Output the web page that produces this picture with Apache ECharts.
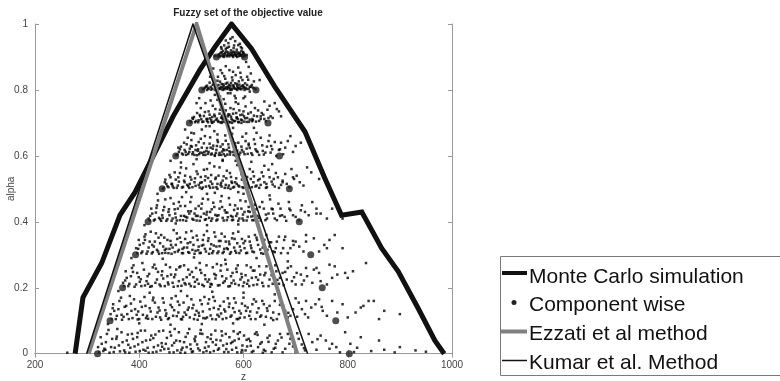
<!DOCTYPE html>
<html>
<head>
<meta charset="utf-8">
<script src="https://cdn.jsdelivr.net/npm/echarts@6/dist/echarts.min.js"></script>
<style>
html,body{margin:0;padding:0;background:#fff;}
#chart{width:780px;height:381px;}
</style>
</head>
<body>
<div id="chart"></div>
<script>
// ---------------- data ----------------
var xTicks = [200, 400, 600, 800, 1000];
var yTicks = [0, 0.2, 0.4, 0.6, 0.8, 1];

var legendNames = ['Monte Carlo simulation', 'Component wise', 'Ezzati et al method', 'Kumar et al. Method'];

// Monte Carlo simulation envelope [z, alpha]
var monteCarlo = [[277,0],[292,0.17],[328,0.275],[363,0.42],[392,0.49],[465,0.72],[516,0.86],[545,0.93],[577,1],
  [615,0.926],[660,0.81],[718,0.673],[756,0.532],[788,0.42],[827,0.43],[865,0.32],[897,0.249],[935,0.138],[967,0.04],[985,0]];

// Component wise alpha-cuts [z, alpha]
var componentWise = [[320,0],[344,0.1],[368,0.2],[393,0.3],[417,0.4],[444,0.5],[470,0.6],[496,0.7],[520,0.8],[548,0.9],
  [803,0],[777,0.1],[751,0.2],[729,0.3],[707,0.4],[688,0.5],[669,0.6],[647,0.7],[624,0.8],[602,0.9]];

// Ezzati et al method (triangular)
var ezzati = [[303,0],[510,1],[703,0]];
// Kumar et al. Method (triangular)
var kumar = [[299,0],[503,1],[723,0]];

// Monte Carlo samples read per alpha level [z, alpha]
var samples09 = [[552,.905],[556,.912],[559,.903],[561,.918],[564,.908],[566,.925],[568,.902],[570,.914],[572,.931],[574,.906],[576,.92],[578,.911],[579,.904],[581,.927],[583,.915],[585,.903],[587,.922],[589,.909],[590,.936],[592,.913],[594,.904],[596,.918],[598,.907],[600,.912],[602,.903],[557,.93],[571,.942],[584,.948],[593,.94],[605,.885],[610,.87],[575,.955],[563,.935],[588,.9],[597,.926],[554,.9],[562,.9],[580,.9],[599,.9],
 [550,.902],[553,.908],[555,.904],[558,.915],[560,.909],[563,.903],[565,.912],[567,.917],[569,.905],[571,.909],[573,.902],[575,.913],[577,.906],[580,.916],[582,.907],[584,.91],[586,.905],[588,.914],[591,.903],[593,.91],[595,.906],[597,.903],[599,.915],[601,.908],[603,.904],[558,.925],[569,.928],[582,.935],[595,.93],[566,.95],[579,.96],[545,.903],[606,.906]];
var samples08 = [[524,.803],[528,.81],[532,.806],[535,.822],[538,.801],[541,.815],[544,.83],[546,.805],[548,.812],[551,.84],[553,.803],[555,.825],[557,.809],[559,.851],[561,.817],[563,.802],[565,.834],[567,.808],[569,.822],[571,.805],[573,.86],[575,.813],[577,.8],[579,.829],[581,.811],[583,.804],[585,.845],[587,.818],[589,.807],[591,.826],[593,.803],[595,.838],[597,.812],[600,.806],[603,.82],[606,.803],[609,.831],[612,.809],[616,.815],[620,.805],[542,.865],[566,.872],[590,.868],[614,.85],[631,.83],[603,.78],[585,.775],[530,.8],[545,.8],[560,.8],[574,.8],[588,.8],[602,.8],
 [522,.802],[526,.807],[530,.813],[533,.803],[537,.809],[540,.804],[543,.817],[547,.802],[549,.809],[552,.815],[554,.806],[556,.803],[558,.818],[560,.807],[562,.812],[564,.805],[566,.819],[568,.803],[570,.81],[572,.815],[574,.806],[576,.821],[578,.804],[580,.814],[582,.807],[584,.82],[586,.803],[588,.812],[590,.805],[592,.816],[594,.808],[596,.802],[599,.814],[601,.809],[604,.806],[607,.815],[610,.803],[614,.81],[618,.807],[623,.802],[550,.828],[563,.842],[578,.838],[594,.852],[607,.84],[536,.84],[580,.855],[556,.86],[598,.83],[620,.826],[612,.795],[570,.79]];
var samples07 = [[498,.705],[503,.712],[507,.702],[511,.73],[514,.708],[518,.745],[521,.703],[524,.721],[527,.76],[530,.706],[533,.735],[536,.714],[539,.702],[541,.752],[544,.725],[547,.709],[550,.77],[552,.703],[555,.74],[557,.716],[560,.704],[562,.732],[565,.758],[567,.708],[570,.72],[572,.703],[575,.745],[577,.712],[580,.728],[582,.705],[585,.763],[587,.717],[590,.703],[592,.738],[595,.71],[598,.725],[601,.704],[604,.75],[607,.715],[610,.703],[614,.732],[618,.708],[622,.745],[626,.72],[630,.706],[635,.73],[640,.712],[646,.74],[652,.72],[660,.76],[668,.735],[515,.775],[545,.785],[575,.79],[600,.775],[528,.69],[620,.685],[540,.7],[558,.7],[578,.7],[596,.7],
 [500,.702],[505,.718],[509,.706],[513,.702],[516,.724],[519,.711],[523,.704],[526,.733],[529,.712],[532,.702],[535,.725],[538,.708],[540,.718],[543,.704],[546,.742],[549,.713],[551,.706],[554,.728],[556,.702],[559,.722],[561,.712],[564,.703],[566,.738],[569,.707],[571,.726],[574,.702],[576,.719],[579,.708],[581,.742],[584,.706],[586,.73],[589,.712],[591,.702],[594,.724],[597,.708],[600,.735],[603,.714],[606,.703],[609,.728],[612,.71],[616,.705],[620,.722],[624,.704],[628,.738],[633,.712],[638,.725],[643,.705],[650,.752],[656,.715],[664,.742],[672,.72],[510,.76],[537,.768],[562,.772],[590,.758],[615,.762],[640,.765],[555,.78],[583,.782],
 [502,.715],[517,.72],[531,.712],[545,.72],[559,.714],[573,.725],[587,.715],[601,.72],[617,.712],[633,.72],[648,.715]];
var samples06 = [[473,.604],[478,.62],[482,.607],[486,.64],[490,.603],[493,.655],[496,.612],[499,.63],[502,.605],[505,.668],[508,.618],[511,.602],[514,.642],[517,.61],[520,.625],[523,.603],[526,.66],[529,.615],[532,.606],[535,.637],[538,.604],[541,.622],[544,.675],[547,.609],[550,.648],[553,.603],[556,.628],[559,.613],[562,.605],[565,.662],[568,.618],[571,.635],[574,.604],[577,.652],[580,.612],[583,.626],[586,.603],[590,.64],[594,.61],[598,.658],[602,.605],[606,.622],[610,.637],[615,.608],[620,.65],[625,.615],[630,.603],[636,.632],[642,.61],[648,.645],[655,.62],[663,.6],[672,.64],[680,.625],[690,.66],[700,.63],[488,.68],[535,.69],[580,.685],[625,.67],[560,.585],[545,.6],[565,.6],[585,.6],
 [471,.602],[476,.612],[480,.628],[484,.604],[487,.618],[491,.635],[494,.606],[497,.622],[500,.648],[503,.611],[506,.603],[509,.632],[512,.615],[515,.605],[518,.652],[521,.609],[524,.638],[527,.603],[530,.624],[533,.612],[536,.656],[539,.607],[542,.631],[545,.603],[548,.618],[551,.642],[554,.609],[557,.603],[560,.635],[563,.617],[566,.646],[569,.604],[572,.625],[575,.611],[578,.667],[581,.603],[584,.638],[588,.616],[592,.604],[596,.628],[600,.612],[604,.645],[608,.606],[612,.624],[617,.603],[622,.636],[627,.612],[633,.655],[639,.604],[645,.628],[652,.61],[660,.642],[668,.618],[676,.605],[685,.645],[695,.612],[710,.64],[500,.67],[550,.665],[605,.668],[650,.662],[520,.68],
 [475,.625],[489,.612],[501,.628],[513,.62],[525,.612],[537,.625],[549,.63],[561,.62],[573,.614],[585,.628],[597,.618],[610,.632],[623,.62],[637,.615],[653,.63],[670,.62]];
var samples05 = [[447,.503],[452,.515],[456,.505],[460,.535],[464,.508],[468,.55],[472,.503],[476,.522],[480,.565],[484,.506],[488,.54],[492,.512],[496,.503],[500,.528],[504,.575],[508,.509],[512,.545],[516,.504],[520,.52],[524,.558],[528,.507],[532,.533],[536,.503],[540,.515],[544,.568],[548,.505],[552,.54],[556,.512],[560,.525],[564,.503],[568,.555],[572,.51],[576,.536],[580,.504],[584,.52],[588,.572],[592,.507],[596,.545],[600,.503],[604,.528],[608,.512],[612,.56],[616,.505],[620,.538],[625,.51],[630,.503],[635,.55],[640,.52],[645,.505],[650,.535],[656,.513],[662,.548],[668,.503],[675,.525],[683,.515],[692,.56],[702,.54],[715,.51],[730,.55],[460,.585],[510,.59],[560,.588],[615,.582],[655,.575],[590,.49],[530,.485],[520,.5],[550,.5],[575,.5],
 [445,.5],[449,.52],[454,.508],[458,.542],[462,.515],[466,.503],[470,.528],[474,.51],[478,.548],[482,.504],[486,.525],[490,.562],[494,.508],[498,.536],[502,.505],[506,.52],[510,.553],[514,.512],[518,.536],[522,.504],[526,.526],[530,.56],[534,.509],[538,.542],[542,.504],[546,.53],[550,.515],[554,.565],[558,.507],[562,.538],[566,.512],[570,.503],[574,.548],[578,.518],[582,.506],[586,.532],[590,.51],[594,.562],[598,.505],[602,.54],[606,.517],[610,.504],[614,.53],[618,.552],[623,.507],[628,.526],[633,.512],[638,.538],[643,.503],[648,.558],[654,.522],[660,.507],[666,.535],[672,.512],[680,.545],[688,.505],[697,.53],[708,.52],[722,.565],[745,.53],[480,.58],[535,.578],[585,.585],[640,.57],
 [450,.528],[463,.515],[475,.535],[487,.52],[497,.515],[507,.532],[517,.518],[527,.538],[537,.522],[547,.534],[557,.518],[567,.532],[577,.522],[587,.515],[597,.528],[607,.536],[619,.52],[631,.53],[644,.515],[658,.53],[675,.52],[695,.535]];
var samples04 = [[420,.404],[425,.425],[430,.407],[434,.45],[438,.412],[442,.403],[446,.435],[450,.468],[454,.408],[458,.42],[462,.403],[466,.455],[470,.413],[474,.44],[478,.405],[482,.475],[486,.418],[490,.403],[494,.432],[498,.46],[502,.409],[506,.425],[510,.404],[514,.448],[518,.415],[522,.47],[526,.406],[530,.43],[534,.412],[538,.403],[542,.458],[546,.421],[550,.407],[554,.44],[558,.478],[562,.404],[566,.428],[570,.414],[574,.452],[578,.405],[582,.436],[586,.418],[590,.403],[594,.465],[598,.41],[602,.43],[606,.404],[610,.445],[615,.416],[620,.405],[625,.438],[630,.412],[636,.46],[642,.405],[648,.425],[654,.44],[660,.41],[667,.455],[674,.42],[682,.403],[690,.435],[700,.415],[712,.45],[725,.42],[740,.44],[760,.41],[435,.485],[490,.49],[545,.488],[600,.485],[650,.48],
 [418,.41],[423,.44],[428,.404],[432,.428],[436,.465],[440,.408],[444,.42],[448,.445],[452,.403],[456,.43],[460,.472],[464,.41],[468,.438],[472,.404],[476,.46],[480,.418],[484,.405],[488,.448],[492,.413],[496,.425],[500,.475],[504,.406],[508,.44],[512,.418],[516,.403],[520,.455],[524,.425],[528,.408],[532,.468],[536,.43],[540,.41],[544,.445],[548,.404],[552,.42],[556,.462],[560,.412],[564,.435],[568,.405],[572,.472],[576,.418],[580,.406],[584,.45],[588,.425],[592,.41],[596,.44],[600,.404],[604,.462],[608,.415],[612,.43],[617,.405],[622,.452],[627,.418],[633,.404],[639,.44],[645,.41],[651,.468],[657,.425],[664,.405],[671,.44],[679,.415],[687,.46],[695,.42],[706,.405],[718,.43],[732,.46],[748,.425],[770,.44],[790,.41],
 [421,.418],[433,.442],[445,.412],[457,.438],[469,.425],[479,.448],[489,.415],[499,.432],[509,.418],[519,.44],[529,.422],[539,.438],[549,.418],[559,.445],[569,.428],[579,.415],[589,.44],[599,.422],[609,.432],[619,.418],[631,.445],[643,.422],[656,.438],[670,.418],[688,.44],[710,.435],[740,.425]];
var samples03 = [[396,.305],[401,.33],[406,.31],[410,.355],[414,.303],[418,.322],[422,.37],[426,.308],[430,.34],[434,.315],[438,.303],[442,.36],[446,.325],[450,.306],[454,.345],[458,.318],[462,.303],[466,.375],[470,.33],[474,.31],[478,.352],[482,.305],[486,.322],[490,.368],[494,.308],[498,.338],[502,.315],[506,.303],[510,.358],[514,.325],[518,.306],[522,.345],[526,.318],[530,.372],[534,.303],[538,.332],[542,.311],[546,.355],[550,.305],[554,.326],[558,.364],[562,.309],[566,.34],[570,.317],[574,.303],[578,.35],[582,.322],[586,.306],[590,.37],[595,.313],[600,.335],[605,.305],[610,.355],[615,.32],[620,.308],[626,.345],[632,.316],[638,.303],[644,.36],[650,.325],[657,.31],[664,.34],[672,.305],[680,.355],[690,.32],[700,.34],[715,.31],[735,.35],[755,.33],[775,.36],[410,.39],[470,.395],[530,.39],[590,.392],
 [394,.32],[399,.345],[404,.305],[408,.335],[412,.362],[416,.31],[420,.34],[424,.304],[428,.325],[432,.365],[436,.31],[440,.335],[444,.305],[448,.352],[452,.318],[456,.305],[460,.342],[464,.322],[468,.308],[472,.365],[476,.315],[480,.338],[484,.305],[488,.348],[492,.322],[496,.306],[500,.372],[504,.33],[508,.312],[512,.345],[516,.305],[520,.328],[524,.36],[528,.31],[532,.342],[536,.318],[540,.305],[544,.368],[548,.325],[552,.31],[556,.342],[560,.305],[564,.355],[568,.32],[572,.34],[576,.308],[580,.365],[584,.312],[588,.335],[592,.305],[597,.348],[602,.32],[607,.306],[612,.34],[617,.31],[622,.36],[628,.33],[634,.305],[640,.345],[646,.315],[653,.338],[660,.308],[668,.355],[676,.32],[685,.305],[695,.342],[707,.325],[720,.36],[745,.31],[765,.345],[790,.32],
 [398,.318],[411,.345],[425,.33],[437,.352],[449,.315],[461,.33],[473,.348],[483,.318],[493,.335],[503,.352],[513,.314],[523,.33],[533,.35],[543,.328],[553,.342],[563,.318],[573,.332],[583,.348],[593,.325],[603,.342],[614,.328],[625,.352],[637,.322],[649,.338],[662,.32],[678,.345],[696,.33],[720,.34],[760,.32]];
var samples02 = [[371,.205],[376,.23],[381,.212],[386,.26],[391,.203],[396,.245],[401,.218],[406,.275],[411,.207],[416,.235],[421,.203],[426,.262],[431,.215],[436,.248],[441,.205],[446,.228],[451,.27],[456,.21],[461,.24],[466,.203],[471,.255],[476,.22],[481,.206],[486,.268],[491,.232],[496,.212],[501,.248],[506,.203],[511,.225],[516,.275],[521,.209],[526,.238],[531,.218],[536,.203],[541,.262],[546,.228],[551,.207],[556,.252],[561,.215],[566,.272],[571,.204],[576,.235],[581,.222],[586,.258],[591,.208],[596,.242],[601,.216],[606,.268],[611,.205],[616,.23],[621,.252],[626,.21],[632,.24],[638,.205],[644,.265],[650,.225],[656,.212],[663,.25],[670,.23],[677,.208],[685,.26],[693,.22],[702,.245],[712,.21],[722,.235],[735,.255],[748,.22],[765,.27],[780,.24],[800,.23],[385,.29],[445,.288],[505,.292],[565,.285],[625,.29],[685,.28],
 [369,.215],[374,.25],[379,.205],[384,.235],[389,.268],[394,.21],[399,.232],[404,.205],[409,.255],[414,.22],[419,.242],[424,.205],[429,.27],[434,.225],[439,.21],[444,.25],[449,.205],[454,.235],[459,.262],[464,.215],[469,.24],[474,.205],[479,.265],[484,.225],[489,.21],[494,.255],[499,.205],[504,.232],[509,.26],[514,.212],[519,.245],[524,.205],[529,.268],[534,.225],[539,.21],[544,.242],[549,.272],[554,.208],[559,.235],[564,.22],[569,.255],[574,.205],[579,.245],[584,.212],[589,.268],[594,.225],[599,.205],[604,.238],[609,.222],[614,.262],[619,.208],[624,.232],[630,.265],[636,.215],[642,.245],[648,.205],[654,.238],[661,.268],[668,.212],[675,.245],[683,.225],[691,.265],[700,.21],[710,.24],[720,.26],[732,.215],[745,.245],[760,.21],[775,.265],[795,.245],[835,.275],
 [373,.222],[388,.248],[403,.226],[417,.212],[432,.258],[443,.238],[455,.216],[467,.232],[477,.262],[487,.214],[497,.24],[507,.218],[517,.254],[527,.226],[537,.212],[547,.238],[557,.268],[567,.228],[577,.214],[587,.248],[597,.232],[607,.212],[618,.252],[628,.224],[640,.238],[652,.258],[665,.224],[680,.248],[697,.232],[716,.222],[740,.26],[770,.23],[810,.25]];
var samples01 = [[347,.105],[352,.13],[357,.115],[362,.16],[367,.103],[372,.142],[377,.12],[382,.175],[387,.108],[392,.135],[397,.104],[402,.158],[407,.118],[412,.145],[417,.106],[422,.128],[427,.17],[432,.112],[437,.14],[442,.103],[447,.155],[452,.122],[457,.108],[462,.168],[467,.132],[472,.114],[477,.148],[482,.104],[487,.125],[492,.175],[497,.11],[502,.138],[507,.118],[512,.103],[517,.162],[522,.128],[527,.107],[532,.152],[537,.116],[542,.172],[547,.104],[552,.135],[557,.122],[562,.158],[567,.108],[572,.142],[577,.116],[582,.168],[587,.105],[592,.13],[597,.152],[602,.11],[608,.14],[614,.105],[620,.165],[626,.125],[632,.112],[639,.15],[646,.13],[653,.108],[660,.16],[668,.12],[676,.145],[685,.11],[695,.135],[706,.155],[718,.12],[730,.14],[745,.165],[760,.115],[790,.15],[815,.125],[840,.16],[850,.16],[870,.13],[360,.19],[420,.185],[480,.19],[540,.188],[600,.185],[660,.18],
 [345,.12],[350,.15],[355,.105],[360,.135],[365,.17],[370,.112],[375,.145],[380,.105],[385,.13],[390,.165],[395,.118],[400,.105],[405,.142],[410,.172],[415,.115],[420,.138],[425,.105],[430,.155],[435,.125],[440,.11],[445,.168],[450,.132],[455,.105],[460,.148],[465,.115],[470,.175],[475,.125],[480,.105],[485,.155],[490,.118],[495,.14],[500,.165],[505,.105],[510,.13],[515,.115],[520,.15],[525,.172],[530,.11],[535,.135],[540,.105],[545,.16],[550,.118],[555,.145],[560,.105],[565,.128],[570,.168],[575,.112],[580,.138],[585,.155],[590,.105],[595,.122],[600,.17],[605,.13],[611,.115],[617,.15],[623,.105],[629,.138],[636,.16],[643,.112],[650,.145],[657,.125],[664,.105],[672,.158],[680,.13],[690,.115],[700,.168],[712,.135],[724,.11],[738,.15],[752,.13],[770,.16],[800,.11],[825,.14],[860,.105],[900,.12],
 [349,.138],[366,.118],[384,.152],[398,.128],[413,.108],[426,.162],[439,.131],[451,.115],[463,.141],[474,.158],[484,.112],[493,.133],[504,.148],[514,.124],[523,.108],[534,.165],[543,.139],[553,.113],[563,.134],[573,.152],[583,.126],[593,.109],[603,.145],[613,.128],[624,.158],[634,.116],[645,.138],[657,.102],[670,.148],[686,.124],[703,.112],[720,.16],[750,.142],[780,.125],[830,.145]];
var samples00 = [[262,.003],[323,.005],[328,.03],[333,.015],[338,.06],[343,.003],[348,.045],[353,.018],[358,.075],[363,.007],[368,.035],[373,.004],[378,.058],[383,.018],[388,.045],[393,.006],[398,.028],[403,.07],[408,.012],[413,.04],[418,.003],[423,.055],[428,.02],[433,.006],[438,.068],[443,.032],[448,.014],[453,.048],[458,.004],[463,.025],[468,.075],[473,.01],[478,.038],[483,.018],[488,.003],[493,.062],[498,.028],[503,.007],[508,.052],[513,.016],[518,.072],[523,.004],[528,.035],[533,.022],[538,.058],[543,.008],[548,.042],[553,.016],[558,.068],[563,.005],[568,.03],[573,.05],[578,.012],[583,.04],[588,.004],[593,.065],[598,.025],[604,.01],[610,.045],[616,.005],[622,.06],[628,.02],[635,.035],[642,.008],[650,.055],[658,.015],[666,.04],[675,.004],[685,.06],[695,.022],[706,.045],[718,.01],[732,.035],[748,.055],[765,.015],[785,.004],[805,.03],[825,.05],[845,.008],[890,.004],[930,.01],[340,.09],[400,.092],[460,.088],[520,.09],[580,.092],[640,.088],
 [321,.02],[326,.05],[331,.008],[336,.035],[341,.072],[346,.02],[351,.005],[356,.045],[361,.025],[366,.065],[371,.01],[376,.04],[381,.003],[386,.06],[391,.022],[396,.05],[401,.008],[406,.035],[411,.07],[416,.018],[421,.042],[426,.004],[431,.058],[436,.025],[441,.01],[446,.07],[451,.03],[456,.015],[461,.055],[466,.004],[471,.04],[476,.065],[481,.012],[486,.035],[491,.02],[496,.075],[501,.005],[506,.045],[511,.028],[516,.01],[521,.06],[526,.018],[531,.05],[536,.004],[541,.035],[546,.07],[551,.012],[556,.04],[561,.025],[566,.06],[571,.005],[576,.032],[581,.068],[586,.018],[591,.045],[596,.004],[601,.055],[607,.022],[613,.038],[619,.008],[625,.065],[632,.03],[639,.012],[646,.048],[654,.004],[662,.03],[670,.06],[680,.015],[690,.045],[700,.005],[712,.028],[725,.06],[740,.012],[758,.04],[778,.02],[795,.065],[812,.005],[860,.04],[900,.02],[950,.006],
 [335,.012],[357,.052],[379,.027],[397,.063],[412,.009],[427,.047],[444,.021],[459,.066],[467,.033],[479,.003],[489,.051],[499,.014],[507,.038],[517,.061],[529,.008],[537,.045],[547,.027],[559,.055],[567,.014],[579,.036],[589,.06],[597,.011],[606,.042],[614,.024],[627,.057],[637,.003],[648,.036],[661,.018],[673,.049],[688,.03],[703,.062],[716,.017],[742,.044],[770,.03],[818,.018],[870,.012]];

var samples = [].concat(samples00, samples01, samples02, samples03, samples04, samples05, samples06, samples07, samples08, samples09);

// ---------------- chart ----------------
var chart = echarts.init(document.getElementById('chart'), null, {renderer: 'canvas'});
var FONT = 'Liberation Sans, Helvetica, Arial, sans-serif';
var axisGray = '#9a9a9a';
var labelGray = '#444';

function frameAxis(pos, showLabel, isX) {
  return {
    type: 'value',
    position: pos,
    min: isX ? 200 : 0,
    max: isX ? 1000 : 1,
    interval: isX ? 200 : 0.2,
    axisLine: {show: true, lineStyle: {color: axisGray, width: 1}},
    axisTick: {show: true, inside: true, length: 4, lineStyle: {color: axisGray}},
    axisLabel: {show: showLabel, color: labelGray, fontSize: 10, fontFamily: FONT, margin: 7,
      formatter: function (v) { return isX ? String(v) : String(Math.round(v * 10) / 10); }},
    splitLine: {show: false}
  };
}

var xBottom = frameAxis('bottom', true, true);
xBottom.name = 'z'; xBottom.nameLocation = 'middle'; xBottom.nameGap = 19; xBottom.nameMoveOverlap = false;
xBottom.nameTextStyle = {color: labelGray, fontSize: 10, fontFamily: FONT};
var xTop = frameAxis('top', false, true);
var yLeft = frameAxis('left', true, false);
yLeft.name = 'alpha'; yLeft.nameLocation = 'middle'; yLeft.nameGap = 19; yLeft.nameMoveOverlap = false;
yLeft.nameTextStyle = {color: labelGray, fontSize: 10, fontFamily: FONT};
var yRight = frameAxis('right', false, false);

var legendY = [273, 302.5, 331.5, 360.5];
var textY = [277.5, 305, 334, 363.5];

var option = {
  animation: false,
  backgroundColor: '#fff',
  title: {
    text: 'Fuzzy set of the objective value',
    left: 243, top: 3, textAlign: 'center',
    textStyle: {fontSize: 10, fontWeight: 'bold', color: '#222', fontFamily: FONT}
  },
  grid: {left: 35, right: 328, top: 24, bottom: 27.3, containLabel: false, outerBoundsMode: 'none'},
  xAxis: [xBottom, xTop],
  yAxis: [yLeft, yRight],
  series: [
    {name: 'samples', type: 'scatter', data: samples, symbol: 'rect', symbolSize: 2.5,
      itemStyle: {color: '#000'}, xAxisIndex: 0, yAxisIndex: 0, z: 1, silent: true},
    {name: legendNames[0], type: 'line', data: monteCarlo, showSymbol: false, symbol: 'none',
      lineStyle: {color: '#111', width: 5, join: 'miter'}, xAxisIndex: 0, yAxisIndex: 0, z: 3},
    {name: legendNames[1], type: 'scatter', data: componentWise, symbol: 'circle', symbolSize: 7,
      itemStyle: {color: '#222'}, xAxisIndex: 0, yAxisIndex: 0, z: 4},
    {name: legendNames[2], type: 'line', data: ezzati, symbol: 'none',
      lineStyle: {color: '#808080', width: 4, join: 'miter'}, xAxisIndex: 0, yAxisIndex: 0, z: 5},
    {name: legendNames[3], type: 'line', data: kumar, symbol: 'none',
      lineStyle: {color: '#111', width: 1.5, join: 'miter'}, xAxisIndex: 0, yAxisIndex: 0, z: 6}
  ],
  graphic: [
    {type: 'rect', shape: {x: 500.5, y: 256.5, width: 300, height: 119},
      style: {fill: '#fff', stroke: '#7a7a7a', lineWidth: 1}, z: 10},
    {type: 'line', shape: {x1: 502, y1: legendY[0], x2: 527, y2: legendY[0]},
      style: {stroke: '#111', lineWidth: 4}, z: 11},
    {type: 'circle', shape: {cx: 514, cy: legendY[1], r: 2.5}, style: {fill: '#222'}, z: 11},
    {type: 'line', shape: {x1: 501, y1: legendY[2], x2: 527, y2: legendY[2]},
      style: {stroke: '#808080', lineWidth: 4}, z: 11},
    {type: 'line', shape: {x1: 502, y1: legendY[3], x2: 527, y2: legendY[3]},
      style: {stroke: '#111', lineWidth: 1.5}, z: 11},
    {type: 'text', x: 529, y: textY[0], style: {text: legendNames[0], fill: '#111', font: '21px ' + FONT, verticalAlign: 'middle'}, z: 11},
    {type: 'text', x: 529, y: textY[1], style: {text: legendNames[1], fill: '#111', font: '21px ' + FONT, verticalAlign: 'middle'}, z: 11},
    {type: 'text', x: 529, y: textY[2], style: {text: legendNames[2], fill: '#111', font: '21px ' + FONT, verticalAlign: 'middle'}, z: 11},
    {type: 'text', x: 529, y: textY[3], style: {text: legendNames[3], fill: '#111', font: '21px ' + FONT, verticalAlign: 'middle'}, z: 11}
  ]
};
chart.setOption(option);
</script>
</body>
</html>
